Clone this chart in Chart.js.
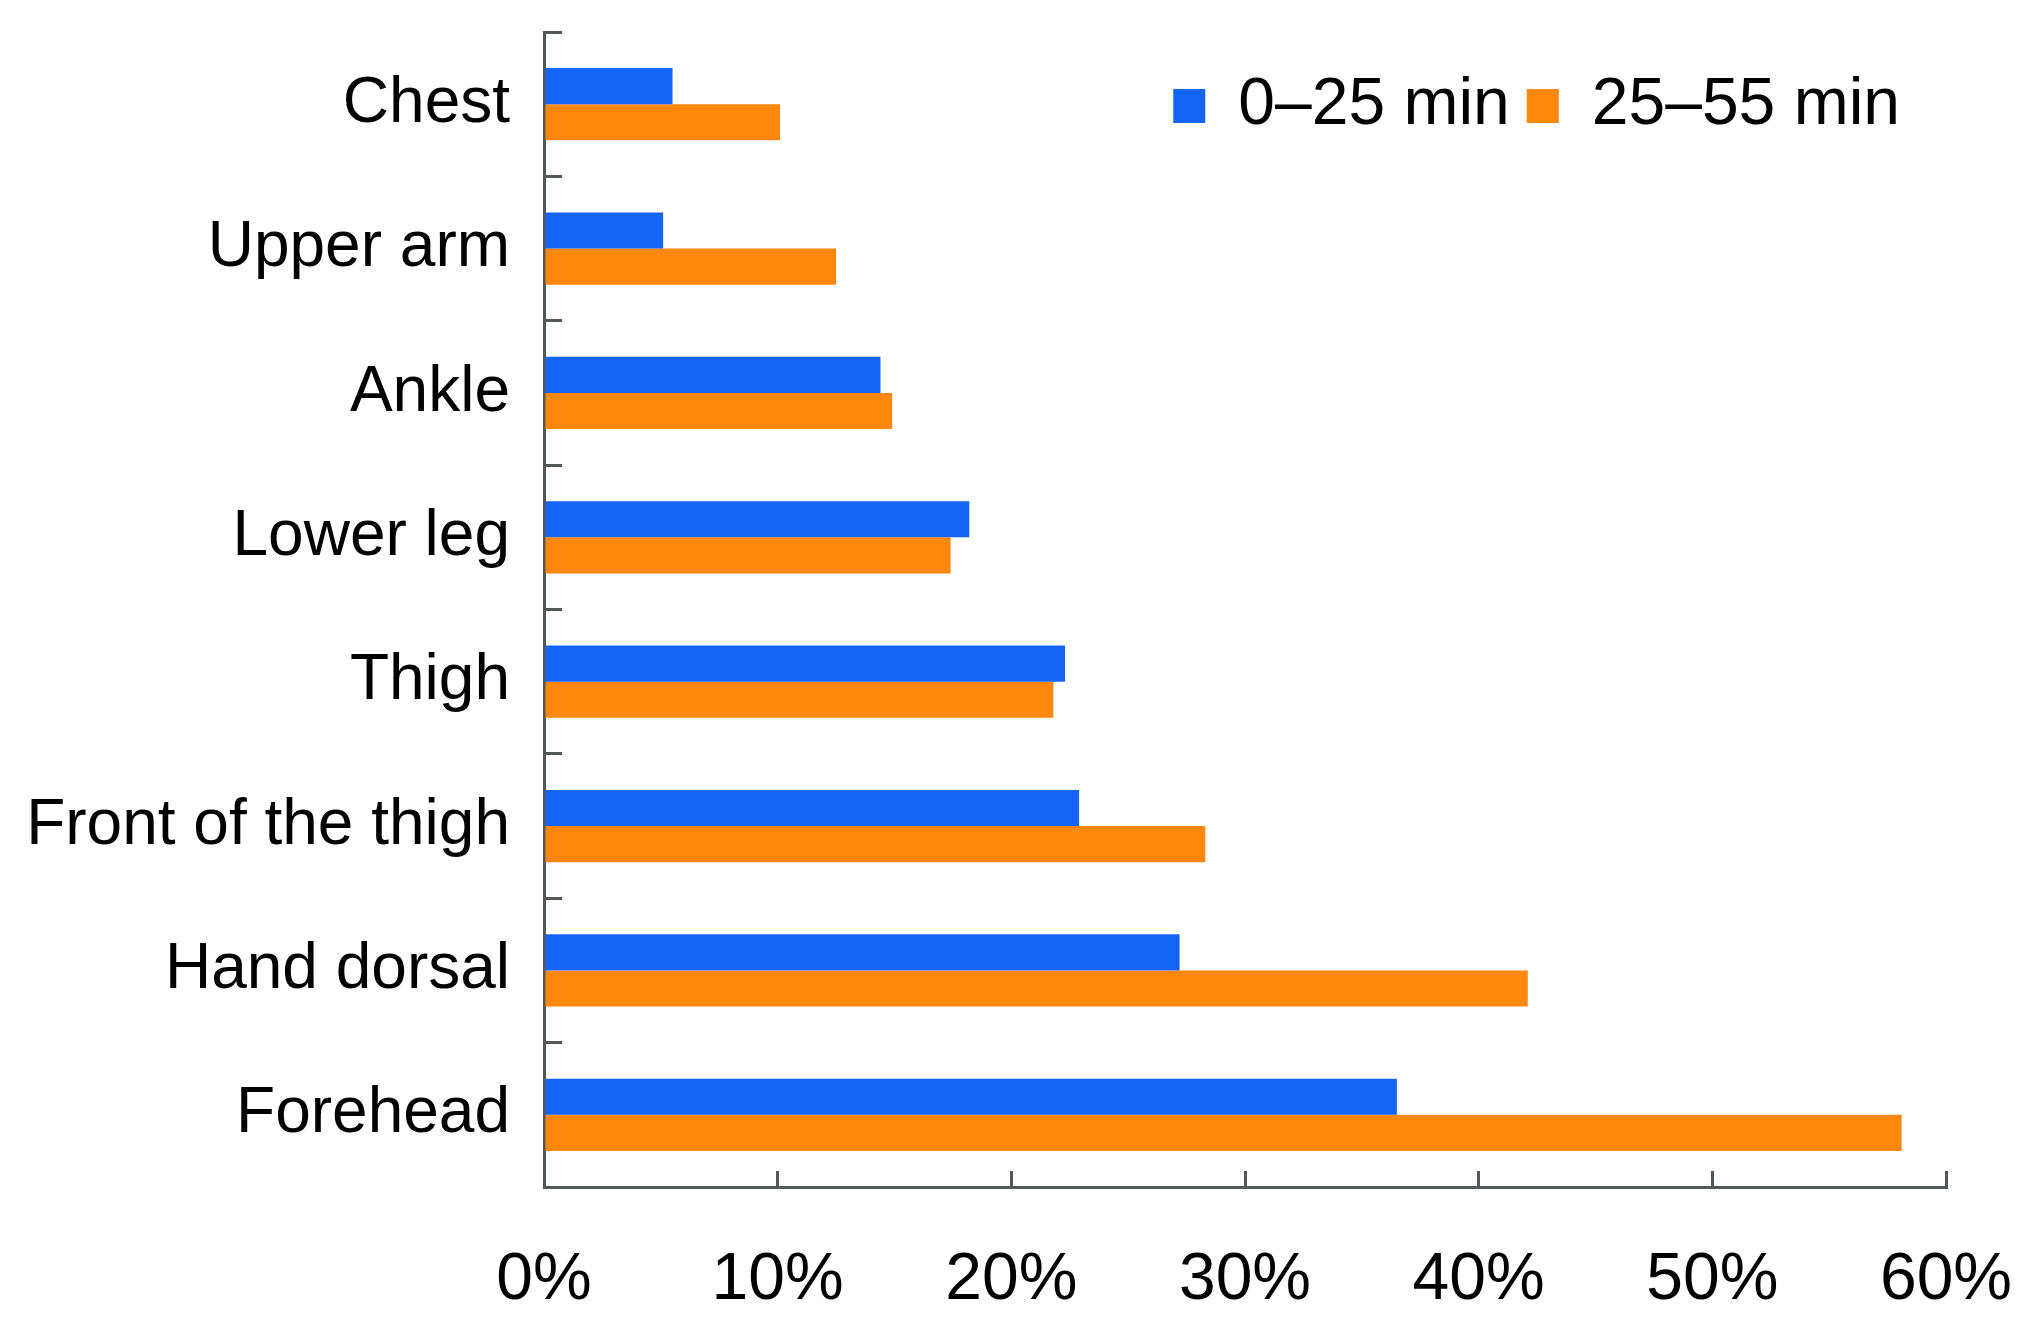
<!DOCTYPE html>
<html>
<head>
<meta charset="utf-8">
<script src="https://cdn.jsdelivr.net/npm/chart.js@4.4.1/dist/chart.umd.min.js"></script>
<style>
  html, body { margin: 0; padding: 0; background: #ffffff; }
  #wrap { width: 2041px; height: 1320px; }
</style>
</head>
<body>
<div id="wrap"><canvas id="c" width="2041" height="1320"></canvas></div>
<script>
const categories = ["Chest", "Upper arm", "Ankle", "Lower leg", "Thigh", "Front of the thigh", "Hand dorsal", "Forehead"];
const seriesNames = ["0\u201325 min", "25\u201355 min"];
const early = [5.5, 5.1, 14.4, 18.2, 22.3, 22.9, 27.2, 36.5];
const late = [10.1, 12.5, 14.9, 17.4, 21.8, 28.3, 42.1, 58.1];
const xTicks = [0, 10, 20, 30, 40, 50, 60];

const FONT = "'Liberation Sans', Arial, Helvetica, sans-serif";
const AXIS = "#545854";

const legendPlacer = {
  id: 'legendPlacer',
  beforeLayout(chart) {
    const lg = chart.legend;
    if (lg && !lg._patched) {
      const f = lg.fit;
      lg.fit = function () { f.call(this); this.height = 0; };
      lg._patched = true;
    }
  },
  afterLayout(chart) {
    const lg = chart.legend;
    if (!lg) return;
    lg.top = 56; lg.bottom = lg.top + 100;
    lg.right = 1917;
  }
};

function noPad(scale) {
  scale.paddingTop = 0; scale.paddingBottom = 0;
  scale.paddingLeft = 0; scale.paddingRight = 0;
}

new Chart(document.getElementById('c'), {
  type: 'bar',
  data: {
    labels: categories,
    datasets: [
      { label: seriesNames[0], data: early, backgroundColor: '#1464F6', borderWidth: 0 },
      { label: seriesNames[1], data: late, backgroundColor: '#FF880C', borderWidth: 0 }
    ]
  },
  options: {
    indexAxis: 'y',
    responsive: false,
    devicePixelRatio: 1,
    animation: false,
    layout: { padding: { top: 32, right: 95, left: 0, bottom: 0 } },
    datasets: { bar: { categoryPercentage: 0.5, barPercentage: 1.0 } },
    scales: {
      x: {
        min: 0, max: 60,
        afterBuildTicks(scale) { scale.ticks = xTicks.map(v => ({ value: v })); },
        afterFit(scale) { scale.height = 133; noPad(scale); },
        grid: { display: true, drawOnChartArea: false, tickLength: -16, color: AXIS, lineWidth: 3 },
        border: { display: true, color: AXIS, width: 3 },
        ticks: {
          padding: 70,
          color: '#000',
          font: { family: FONT, size: 66 },
          callback: v => v + '%'
        }
      },
      y: {
        afterFit(scale) { scale.width = 544; noPad(scale); },
        grid: { display: true, drawOnChartArea: false, offset: true, tickLength: -18, color: AXIS, lineWidth: 3 },
        border: { display: true, color: AXIS, width: 3 },
        ticks: {
          padding: 52,
          color: '#000',
          font: { family: FONT, size: 64 }
        }
      }
    },
    plugins: {
      tooltip: { enabled: false },
      legend: {
        display: true,
        position: 'top',
        align: 'end',
        labels: {
          boxWidth: 32,
          boxHeight: 34,
          padding: 17,
          color: '#000',
          font: { family: FONT, size: 66 }
        }
      }
    }
  },
  plugins: [legendPlacer]
});
</script>
</body>
</html>
